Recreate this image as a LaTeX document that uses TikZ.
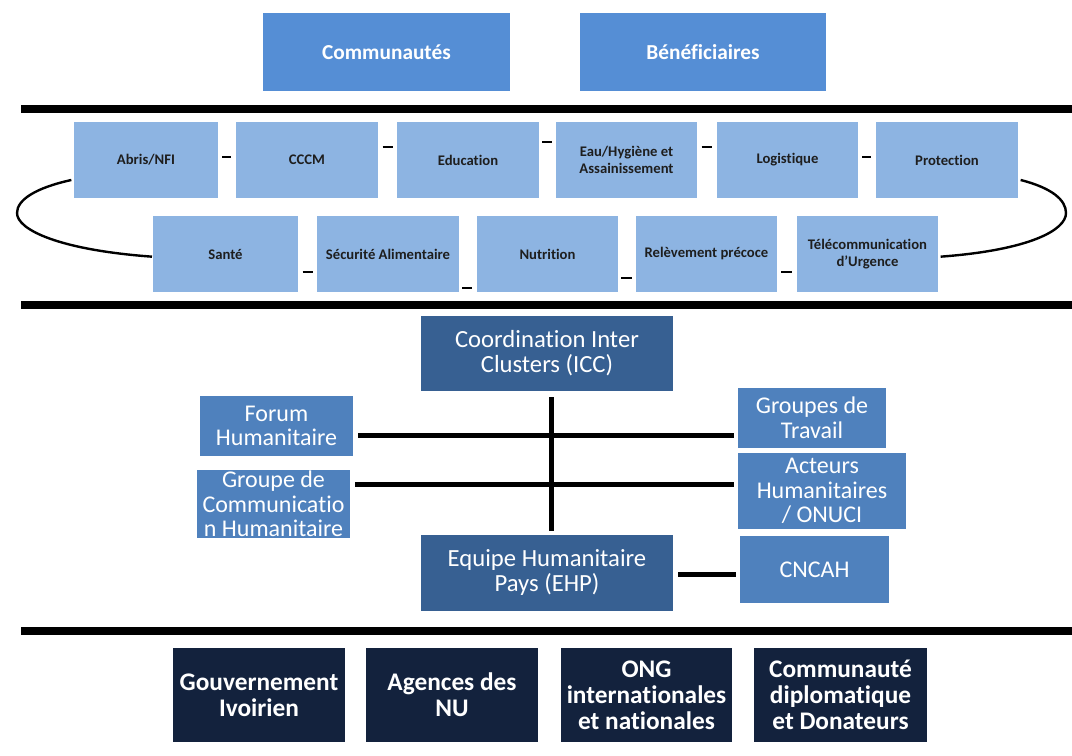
\documentclass[tikz,border=0pt]{standalone}
\usepackage{fontspec}
\setmainfont{Carlito}[Ligatures=NoCommon]
\definecolor{ctop}{HTML}{558ED5}
\definecolor{crow}{HTML}{8DB4E2}
\definecolor{ccoord}{HTML}{376092}
\definecolor{cside}{HTML}{4F81BD}
\definecolor{cact}{HTML}{13223D}
\definecolor{ctxt}{HTML}{1E1E1E}
\tikzset{
  bx/.style={inner sep=0pt, outer sep=0pt, align=center, draw=none, rectangle},
  topbox/.style={bx, fill=ctop, text=white, font=\bfseries\fontsize{16}{19}\selectfont},
  clbox/.style={bx, fill=crow, text=ctxt, font=\bfseries\fontsize{11}{12.75}\selectfont},
  coordbox/.style={bx, fill=ccoord, text=white, font=\fontsize{18.5}{18.75}\selectfont},
  sidebox/.style={bx, fill=cside, text=white, font=\fontsize{18}{18.5}\selectfont},
  actbox/.style={bx, fill=cact, text=white, font=\bfseries\fontsize{19}{19.5}\selectfont},
  bar/.style={line width=5.5pt, black},
  link/.style={line width=3.75pt, black},
  dashl/.style={line width=2pt, black},
  loopl/.style={line width=1.8pt, black},
}
% #1 style, #2 name, #3 x1, #4 y1, #5 x2, #6 y2, #7 text
\newcommand\mybox[7]{%
  \node[#1, minimum width={(#5-#3)*0.75pt}, minimum height={(#6-#4)*0.75pt}]
    (#2) at ({(#3+#5)/2},{(#4+#6)/2}) {#7};}
\begin{document}
\begin{tikzpicture}[x=0.75pt, y=-0.75pt]
\useasboundingbox (0,0) rectangle (1072,756);
% top
\mybox{topbox}{comm}{263}{13}{510}{91}{Communautés}
\mybox{topbox}{benef}{580}{13}{826}{91}{Bénéficiaires}
% bars
\coordinate (b1l) at (21,109); \coordinate (b1r) at (1072,109);
\coordinate (b2l) at (21,305); \coordinate (b2r) at (1072,305);
\coordinate (b3l) at (21,631); \coordinate (b3r) at (1072,631);
\draw[bar] (b1l) -- (b1r);
\draw[bar] (b2l) -- (b2r);
\draw[bar] (b3l) -- (b3r);
% clusters row 1
\mybox{clbox}{abris}{74}{122}{218}{198}{Abris/NFI}
\mybox{clbox}{cccm}{236}{122}{378}{198}{CCCM}
\mybox{clbox}{edu}{397}{122}{539}{198}{Education}
\mybox{clbox}{eau}{556}{122}{697}{198}{Eau/Hygiène et\\Assainissement}
\mybox{clbox}{log}{717}{122}{858}{198}{Logistique}
\mybox{clbox}{prot}{876}{122}{1018}{198}{Protection}
% clusters row 2
\mybox{clbox}{sante}{153}{216}{298}{292}{Santé}
\mybox{clbox}{secu}{317}{216}{459}{292}{Sécurité Alimentaire}
\mybox{clbox}{nutr}{477}{216}{618}{292}{Nutrition}
\mybox{clbox}{relev}{636}{216}{777}{292}{Relèvement précoce}
\mybox{clbox}{tele}{797}{216}{938}{292}{Télécommunication\\d’Urgence}
% dashes row 1
\draw[dashl, shorten <=3pt, shorten >=3.5pt] ([yshift=2.25pt]abris.east) -- ([yshift=2.25pt]cccm.west);
\draw[dashl, shorten <=3.5pt, shorten >=3pt] ([yshift=9.75pt]cccm.east) -- ([yshift=9.75pt]edu.west);
\draw[dashl, shorten <=2.5pt, shorten >=3pt] ([yshift=13.5pt]edu.east) -- ([yshift=13.5pt]eau.west);
\draw[dashl, shorten <=3.5pt, shorten >=3.5pt] ([yshift=9.75pt]eau.east) -- ([yshift=9.75pt]log.west);
\draw[dashl, shorten <=3pt, shorten >=4pt] ([yshift=2.25pt]log.east) -- ([yshift=2.25pt]prot.west);
% dashes row 2
\draw[dashl, shorten <=3.5pt, shorten >=3pt] ([yshift=-13.5pt]sante.east) -- ([yshift=-13.5pt]secu.west);
\draw[dashl, shorten <=2.5pt, shorten >=3.5pt] ([yshift=-25.5pt]secu.east) -- ([yshift=-25.5pt]nutr.west);
\draw[dashl, shorten <=2.5pt, shorten >=3pt] ([yshift=-18pt]nutr.east) -- ([yshift=-18pt]relev.west);
\draw[dashl, shorten <=3pt, shorten >=3.5pt] ([yshift=-13.5pt]relev.east) -- ([yshift=-13.5pt]tele.west);
% loops
\coordinate (lb) at (17,213);
\coordinate (rb) at (1066,213);
\draw[loopl] ([xshift=-2pt,yshift=-15pt]abris.west) .. controls (35,188) and (17,200) .. (lb)
  .. controls (17,230) and (60,250) .. ([xshift=-0.75pt,yshift=-2pt]sante.west);
\draw[loopl] ([xshift=2pt,yshift=-15pt]prot.east) .. controls (1052,188) and (1066,200) .. (rb)
  .. controls (1066,230) and (1030,250) .. ([xshift=2pt,yshift=-2pt]tele.east);
% coordination
\mybox{coordbox}{icc}{421}{316}{673}{391}{Coordination Inter\\Clusters (ICC)}
\mybox{coordbox}{ehp}{421}{535}{673}{611}{Equipe Humanitaire\\Pays (EHP)}
\mybox{sidebox}{forum}{200}{396}{353}{456}{Forum\\Humanitaire}
\mybox{sidebox}{gcom}{197}{470}{350}{538}{Groupe de\\Communicatio\\n Humanitaire}
\mybox{sidebox}{gt}{738}{388}{886}{448}{Groupes de\\Travail}
\mybox{sidebox}{act}{738}{453}{906}{529}{Acteurs\\Humanitaires\\/ ONUCI}
\mybox{sidebox}{cncah}{740}{536}{889}{603}{CNCAH}
\coordinate (h1) at (0,435);
\coordinate (h2) at (0,484);
\coordinate (h3) at (0,574);
\draw[link, shorten <=4.5pt, shorten >=3pt] ([xshift=3pt]icc.south) -- ([xshift=3pt]ehp.north);
\draw[link, shorten <=3.75pt, shorten >=3pt] (forum.east |- h1) -- (gt.west |- h1);
\draw[link, shorten <=3.75pt, shorten >=3pt] (gcom.east |- h2) -- (act.west |- h2);
\draw[link, shorten <=3.75pt, shorten >=3pt] (ehp.east |- h3) -- (cncah.west |- h3);
% actors
\mybox{actbox}{gouv}{173}{648}{345}{742}{Gouvernement\\Ivoirien}
\mybox{actbox}{agences}{366}{648}{538}{742}{Agences des\\NU}
\mybox{actbox}{ong}{561}{648}{732}{742}{ONG\\internationales\\et nationales}
\mybox{actbox}{donat}{754}{648}{927}{742}{Communauté\\diplomatique\\et Donateurs}
\end{tikzpicture}
\end{document}
